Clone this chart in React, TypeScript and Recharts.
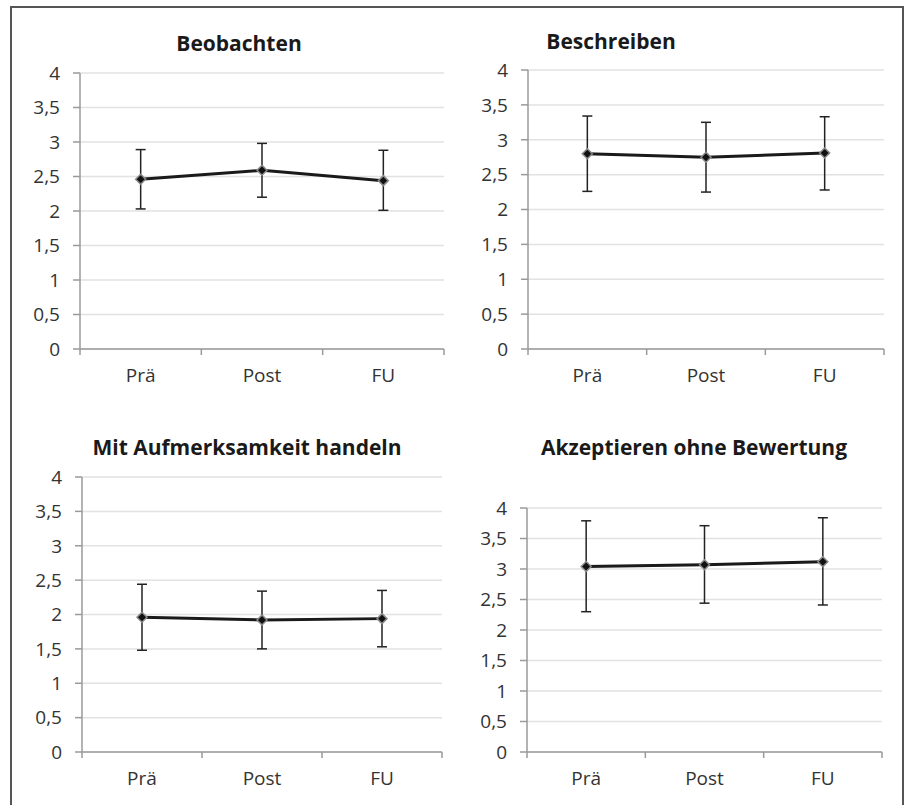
import React from 'react';
import { LineChart, Line, XAxis, YAxis, CartesianGrid, ErrorBar } from 'recharts';

const phases = ['Prä', 'Post', 'FU'];
const yTicks = [0, 0.5, 1, 1.5, 2, 2.5, 3, 3.5, 4];

const titles = ['Beobachten', 'Beschreiben', 'Mit Aufmerksamkeit handeln', 'Akzeptieren ohne Bewertung'];

// means and whisker ends
const beobachtenMean = [2.46, 2.59, 2.44];
const beobachtenHigh = [2.89, 2.98, 2.88];
const beobachtenLow = [2.03, 2.2, 2.01];

const beschreibenMean = [2.8, 2.75, 2.81];
const beschreibenHigh = [3.34, 3.25, 3.33];
const beschreibenLow = [2.26, 2.25, 2.28];

const handelnMean = [1.96, 1.92, 1.94];
const handelnHigh = [2.44, 2.34, 2.35];
const handelnLow = [1.48, 1.5, 1.53];

const akzeptierenMean = [3.04, 3.07, 3.12];
const akzeptierenHigh = [3.79, 3.71, 3.84];
const akzeptierenLow = [2.3, 2.44, 2.41];

const FONT = '"Open Sans", "Liberation Sans", sans-serif';
const TEXT = '#333';
const AXIS = '#9a9a9a';
const TICK_FONT = 19;

const buildData = (mean: number[], high: number[], low: number[]) =>
  phases.map((p, i) => ({
    x: i + 0.5,
    phase: p,
    mean: mean[i],
    err: [mean[i] - low[i], high[i] - mean[i]],
  }));

// plot area boxes (pixel edges of the axes) and title placement
const panels = [
  { plot: { l: 80, r: 444, t: 73, b: 349 }, title: { x: 239, y: 43 }, data: buildData(beobachtenMean, beobachtenHigh, beobachtenLow) },
  { plot: { l: 528, r: 884, t: 70, b: 349 }, title: { x: 611, y: 41 }, data: buildData(beschreibenMean, beschreibenHigh, beschreibenLow) },
  { plot: { l: 82, r: 442, t: 477, b: 752 }, title: { x: 247, y: 447 }, data: buildData(handelnMean, handelnHigh, handelnLow) },
  { plot: { l: 527, r: 882, t: 508, b: 752 }, title: { x: 694, y: 447 }, data: buildData(akzeptierenMean, akzeptierenHigh, akzeptierenLow) },
];

const Diamond = (props: any) => {
  const { cx, cy } = props;
  if (cx == null || cy == null) return null;
  const s = 5;
  return (
    <path
      d={`M${cx},${cy - s} L${cx + s},${cy} L${cx},${cy + s} L${cx - s},${cy} Z`}
      fill="#111"
      stroke="#8a8a8a"
      strokeWidth={1.5}
    />
  );
};

const TICK_SIZE = 6;
const TICK_MARGIN = 14;

// ticks at the category borders get a tick mark, the half-way ones get the label
const PhaseTick = (props: any) => {
  const { x, y, payload } = props;
  const v = payload.value as number;
  const axisY = y - TICK_SIZE - TICK_MARGIN;
  if (Number.isInteger(v)) {
    return <line x1={x} x2={x} y1={axisY} y2={axisY + TICK_SIZE} stroke={AXIS} strokeWidth={1.5} />;
  }
  const label = phases[Math.floor(v)];
  return (
    <text x={x} y={y} dy="0.71em" textAnchor="middle" fill={TEXT} fontSize={TICK_FONT} fontFamily={FONT}>
      {label}
    </text>
  );
};

const YTick = (props: any) => {
  const { x, y, payload } = props;
  return (
    <text x={x} y={y} dy="0.36em" textAnchor="end" fill={TEXT} fontSize={TICK_FONT} fontFamily={FONT}>
      {String(payload.value).replace('.', ',')}
    </text>
  );
};

const Panel = ({ idx }: { idx: number }) => {
  const { plot, data } = panels[idx];
  const yAxisW = 70;
  const xAxisH = 50;
  const padTop = 20;
  const left = plot.l - yAxisW;
  const top = plot.t - padTop;
  const width = plot.r - plot.l + yAxisW + 10;
  const height = plot.b - plot.t + padTop + xAxisH;
  return (
    <div style={{ position: 'absolute', left, top }}>
      <LineChart width={width} height={height} data={data} margin={{ top: padTop, right: 10, left: 0, bottom: 0 }}>
        <CartesianGrid vertical={false} stroke="#e2e2e2" strokeWidth={1.5} />
        <XAxis
          dataKey="x"
          type="number"
          domain={[0, 3]}
          ticks={[0, 0.5, 1, 1.5, 2, 2.5, 3]}
          interval={0}
          height={xAxisH}
          stroke={AXIS}
          strokeWidth={1.5}
          tickLine={false}
          tickSize={TICK_SIZE}
          tickMargin={TICK_MARGIN}
          tick={<PhaseTick />}
        />
        <YAxis
          type="number"
          domain={[0, 4]}
          ticks={yTicks}
          interval={0}
          width={yAxisW}
          stroke={AXIS}
          strokeWidth={1.5}
          tickSize={7}
          tickMargin={13}
          tick={<YTick />}
        />
        <Line
          dataKey="mean"
          stroke="#1a1a1a"
          strokeWidth={3}
          dot={<Diamond />}
          activeDot={false}
          isAnimationActive={false}
        >
          <ErrorBar dataKey="err" direction="y" width={5} stroke="#222" strokeWidth={1.5} isAnimationActive={false} />
        </Line>
      </LineChart>
    </div>
  );
};

export default function App() {
  return (
    <div style={{ position: 'absolute', left: 0, top: 0, width: 912, height: 805, background: '#fff', overflow: 'hidden' }}>
      <div
        style={{
          position: 'absolute',
          left: 10,
          top: 6,
          width: 894,
          height: 820,
          border: '2px solid #555',
          boxSizing: 'border-box',
        }}
      />
      {panels.map((p, i) => (
        <div
          key={'t' + i}
          style={{
            position: 'absolute',
            left: p.title.x - 200,
            top: p.title.y - 15,
            width: 400,
            textAlign: 'center',
            fontFamily: FONT,
            fontWeight: 700,
            fontSize: 21,
            lineHeight: '30px',
            color: '#1a1a1a',
          }}
        >
          {titles[i]}
        </div>
      ))}
      {panels.map((_, i) => (
        <Panel key={i} idx={i} />
      ))}
    </div>
  );
}
